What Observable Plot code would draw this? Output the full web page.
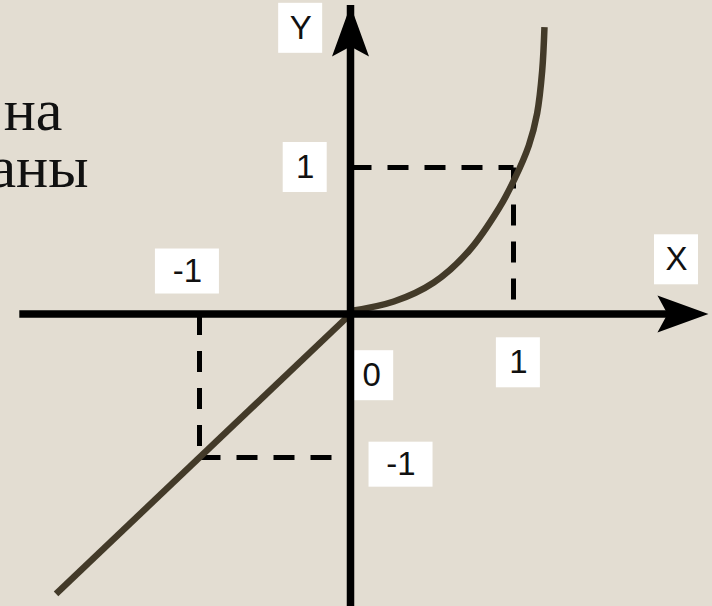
<!DOCTYPE html>
<html><head><meta charset="utf-8">
<script src="https://cdn.jsdelivr.net/npm/d3@7"></script>
<script src="https://cdn.jsdelivr.net/npm/@observablehq/plot@0.6"></script>
<style>html,body{margin:0;padding:0;background:#e3ddd2;overflow:hidden}</style>
</head><body><div id="chart"></div>
<script>
// Data (data units)
const curveNegX = [-1.95, 0];
const curveNegY = [-1.95, 0];
const curvePosX = [0, 0.266, 0.511, 0.726, 0.91, 1.006, 1.094, 1.145, 1.176, 1.19];
const curvePosY = [0.02, 0.085, 0.215, 0.43, 0.72, 0.92, 1.15, 1.37, 1.66, 1.958];
const xAxisExtent = [-2.19, 2.196];
const yAxisExtent = [-2.1, 2.106];
const guideX1 = [1, 0, -1, -1];
const guideY1 = [1, 1, 0, -1];
const guideX2 = [1, 1, -1, -0.12];
const guideY2 = [0, 1, -1, -1];
const labelText = ["Y", "1", "-1", "0", "-1", "X", "1"];
const labelX = [-0.33, -0.3, -1.08, 0.13, 0.31, 2.0, 1.03];
const labelY = [1.95, 1.0, 0.29, -0.43, -1.05, 0.37, -0.34];
const slideText = ["на", "аны"];

const neg = curveNegX.map((x, i) => ({x, y: curveNegY[i]}));
const pos = curvePosX.map((x, i) => ({x, y: curvePosY[i]}));
const guides = guideX1.map((x1, i) => ({x1, y1: guideY1[i], x2: guideX2[i], y2: guideY2[i]}));
const labels = labelText.map((text, i) => ({text, x: labelX[i], y: labelY[i]}));
const short = labels.filter(d => d.text.length === 1);
const long = labels.filter(d => d.text.length > 1);

// stealth arrowhead symbol, tip at the dot's position, pointing up
const stealth = {
  draw(ctx, size) {
    const s = Math.sqrt(size / Math.PI) / 10;
    ctx.moveTo(0, 0);
    ctx.lineTo(18.5 * s, 51 * s);
    ctx.lineTo(0, 41 * s);
    ctx.lineTo(-18.5 * s, 51 * s);
    ctx.closePath();
  }
};

const ink = "#433a29";
const box = (data, w, h) => Plot.rect(data, {
  x1: "x", x2: "x", y1: "y", y2: "y", fill: "white",
  insetLeft: -w / 2, insetRight: -w / 2, insetTop: -h / 2, insetBottom: -h / 2
});

const chart = Plot.plot({
  width: 712,
  height: 606,
  margin: 0,
  style: {background: "#e3ddd2", overflow: "visible"},
  x: {type: "linear", domain: [-1, 0, 1], range: [199, 350, 513], axis: null},
  y: {type: "linear", domain: [-1, 0, 1], range: [457, 313.5, 167], axis: null},
  marks: [
    Plot.text([slideText[0]], {frameAnchor: "top-left", dx: 62, dy: 129, text: d => d, textAnchor: "end", lineAnchor: "bottom", fontSize: 60, fontFamily: "Liberation Serif, Times New Roman, serif", fill: "#111"}),
    Plot.text([slideText[1]], {frameAnchor: "top-left", dx: 88, dy: 186, text: d => d, textAnchor: "end", lineAnchor: "bottom", fontSize: 60, fontFamily: "Liberation Serif, Times New Roman, serif", fill: "#111"}),
    Plot.link(guides, {x1: "x1", y1: "y1", x2: "x2", y2: "y2", stroke: "#000", strokeWidth: 5, strokeDasharray: "21,16"}),
    Plot.line(neg, {x: "x", y: "y", stroke: ink, strokeWidth: 6.5, strokeLinecap: "butt"}),
    Plot.line(pos, {x: "x", y: "y", stroke: ink, strokeWidth: 6.5, strokeLinecap: "butt", curve: "catmull-rom"}),
    box(short, 44, 50),
    box(long, 64, 45),
    Plot.ruleY([0], {x1: xAxisExtent[0], x2: xAxisExtent[1], stroke: "#000", strokeWidth: 7.5, insetRight: 30}),
    Plot.ruleX([0], {y1: yAxisExtent[0], y2: yAxisExtent[1], stroke: "#000", strokeWidth: 7.5, insetTop: 30}),
    Plot.dot([{x: xAxisExtent[1], y: 0}], {x: "x", y: "y", r: 10, symbol: stealth, fill: "#000", stroke: "none", rotate: 90}),
    Plot.dot([{x: 0, y: yAxisExtent[1]}], {x: "x", y: "y", r: 10, symbol: stealth, fill: "#000", stroke: "none"}),
    Plot.text(labels, {x: "x", y: "y", text: "text", fontSize: 33, fontFamily: "Liberation Sans, Arial, sans-serif", fill: "#111", lineAnchor: "middle"})
  ]
});
document.getElementById("chart").append(chart);
</script>
</body></html>
